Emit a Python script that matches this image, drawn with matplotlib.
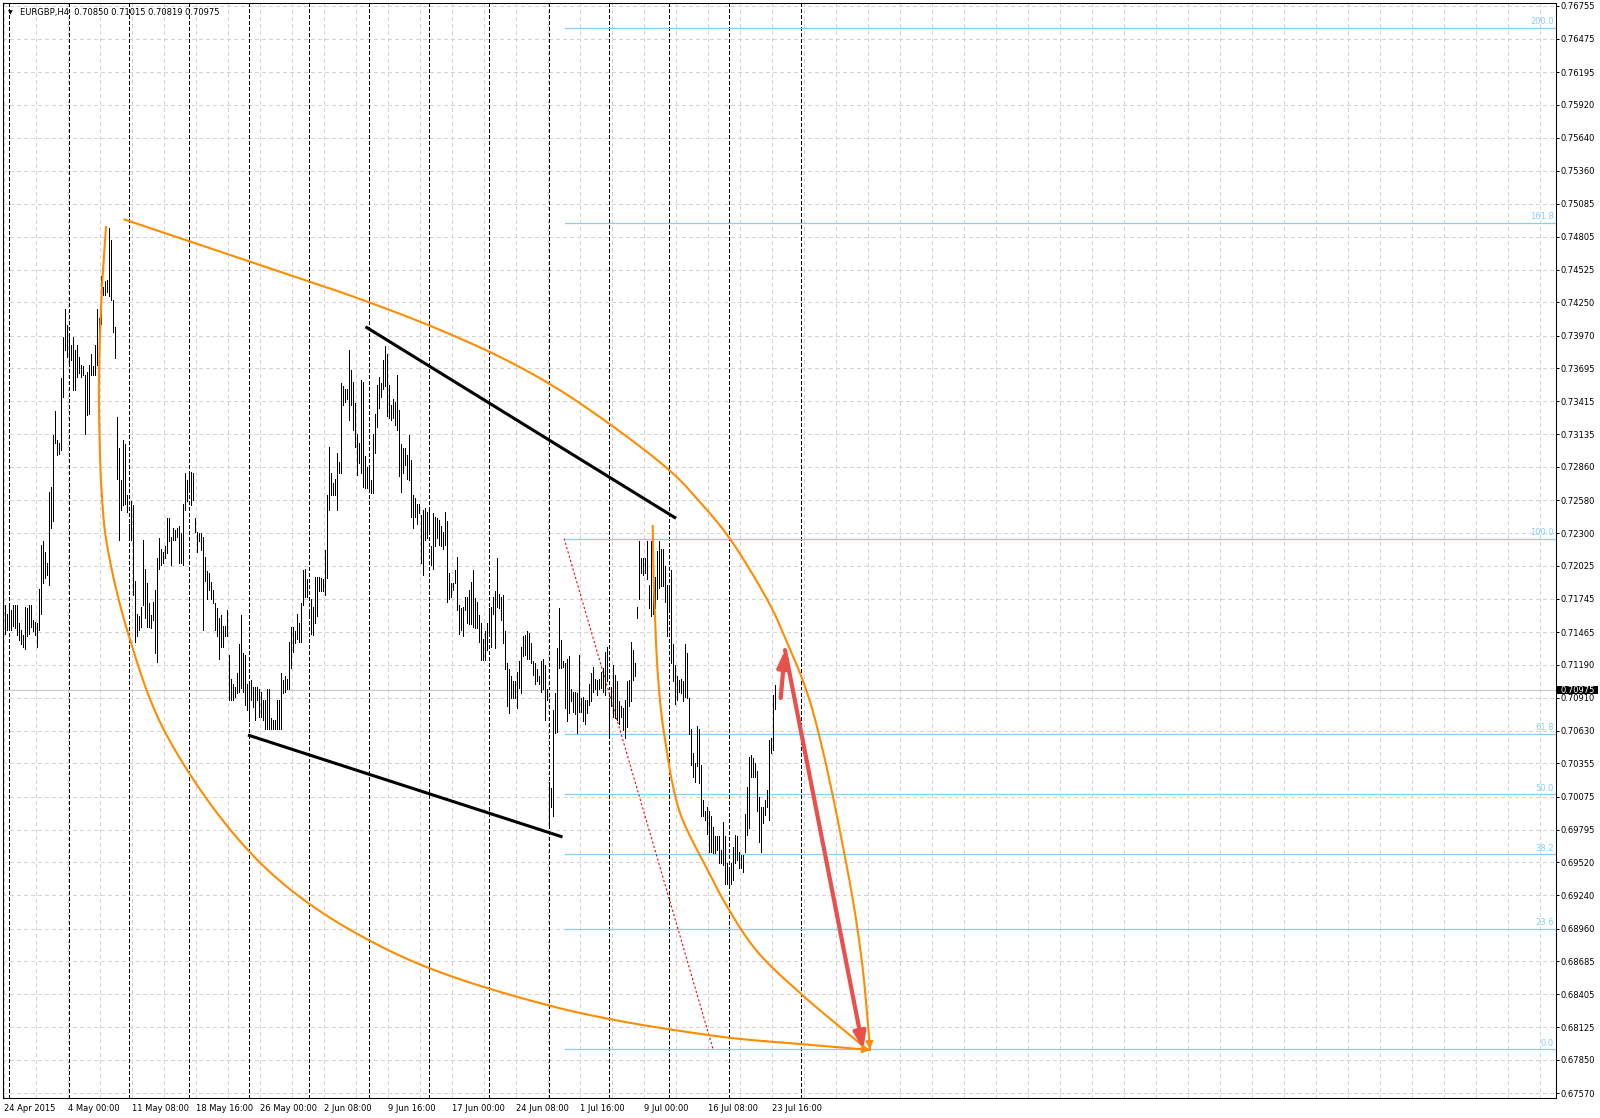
import numpy as np
import matplotlib
matplotlib.use('Agg')
import matplotlib.pyplot as plt
from matplotlib.patches import Rectangle

plt.rcParams['font.family'] = ['DejaVu Sans']
plt.rcParams['lines.scale_dashes'] = False

# EURGBP H4 bars (one entry per 4h bar, starting 24 Apr 2015 16:00)
highs = [
    0.7169, 0.7162, 0.7169, 0.7165, 0.7169, 0.7169, 0.7169, 0.7154, 0.7148, 0.7144,
    0.7168, 0.7167, 0.7169, 0.7169, 0.7157, 0.7155, 0.7154, 0.7183, 0.7220, 0.7223,
    0.7214, 0.7205, 0.7265, 0.7269, 0.7313, 0.7333, 0.7309, 0.7306, 0.7361, 0.7396,
    0.7419, 0.7406, 0.7397, 0.7389, 0.7396, 0.7385, 0.7389, 0.7379, 0.7372, 0.7371,
    0.7364, 0.7366, 0.7372, 0.7381, 0.7371, 0.7389, 0.7419, 0.7412, 0.7447, 0.7438,
    0.7443, 0.7444, 0.7488, 0.7478, 0.7427, 0.7404, 0.7328, 0.7302, 0.7275, 0.7309,
    0.7305, 0.7262, 0.7238, 0.7257, 0.7254, 0.7190, 0.7162, 0.7160, 0.7168, 0.7224,
    0.7200, 0.7188, 0.7171, 0.7161, 0.7172, 0.7182, 0.7209, 0.7226, 0.7217, 0.7214,
    0.7219, 0.7243, 0.7243, 0.7227, 0.7234, 0.7233, 0.7234, 0.7236, 0.7230, 0.7255,
    0.7281, 0.7275, 0.7282, 0.7282, 0.7281, 0.7243, 0.7231, 0.7230, 0.7230, 0.7227,
    0.7210, 0.7198, 0.7196, 0.7189, 0.7182, 0.7171, 0.7167, 0.7158, 0.7161, 0.7152,
    0.7152, 0.7165, 0.7127, 0.7107, 0.7103, 0.7100, 0.7112, 0.7136, 0.7161, 0.7129,
    0.7127, 0.7103, 0.7102, 0.7106, 0.7100, 0.7100, 0.7100, 0.7098, 0.7096, 0.7089,
    0.7089, 0.7098, 0.7098, 0.7074, 0.7072, 0.7072, 0.7089, 0.7089, 0.7112, 0.7106,
    0.7109, 0.7107, 0.7138, 0.7151, 0.7151, 0.7147, 0.7162, 0.7154, 0.7171, 0.7199,
    0.7200, 0.7191, 0.7165, 0.7174, 0.7168, 0.7193, 0.7193, 0.7193, 0.7192, 0.7191,
    0.7216, 0.7262, 0.7303, 0.7281, 0.7272, 0.7276, 0.7298, 0.7290, 0.7357, 0.7354,
    0.7352, 0.7352, 0.7385, 0.7368, 0.7358, 0.7340, 0.7314, 0.7306, 0.7359, 0.7358,
    0.7295, 0.7286, 0.7284, 0.7275, 0.7314, 0.7331, 0.7355, 0.7362, 0.7357, 0.7376,
    0.7388, 0.7381, 0.7355, 0.7338, 0.7343, 0.7341, 0.7364, 0.7334, 0.7305, 0.7302,
    0.7302, 0.7296, 0.7313, 0.7292, 0.7262, 0.7260, 0.7255, 0.7255, 0.7245, 0.7250,
    0.7251, 0.7248, 0.7251, 0.7219, 0.7247, 0.7244, 0.7243, 0.7241, 0.7236, 0.7231,
    0.7248, 0.7240, 0.7196, 0.7188, 0.7188, 0.7199, 0.7210, 0.7169, 0.7167, 0.7168,
    0.7176, 0.7176, 0.7182, 0.7189, 0.7199, 0.7175, 0.7172, 0.7161, 0.7154, 0.7141,
    0.7147, 0.7154, 0.7167, 0.7168, 0.7176, 0.7181, 0.7209, 0.7179, 0.7176, 0.7178,
    0.7147, 0.7120, 0.7115, 0.7109, 0.7105, 0.7105, 0.7113, 0.7122, 0.7134, 0.7143,
    0.7144, 0.7147, 0.7146, 0.7137, 0.7122, 0.7120, 0.7115, 0.7109, 0.7122, 0.7124,
    0.7119, 0.7098, 0.7020, 0.7015, 0.7081, 0.7095, 0.7133, 0.7167, 0.7140, 0.7122,
    0.7120, 0.7124, 0.7126, 0.7098, 0.7096, 0.7096, 0.7095, 0.7127, 0.7091, 0.7092,
    0.7089, 0.7089, 0.7103, 0.7112, 0.7117, 0.7107, 0.7106, 0.7107, 0.7113, 0.7116,
    0.7130, 0.7134, 0.7091, 0.7100, 0.7119, 0.7110, 0.7105, 0.7088, 0.7084, 0.7082,
    0.7089, 0.7105, 0.7106, 0.7138, 0.7131, 0.7120, 0.7168, 0.7223, 0.7209, 0.7209,
    0.7209, 0.7223, 0.7186, 0.7223, 0.7202, 0.7193, 0.7215, 0.7223, 0.7217, 0.7217,
    0.7202, 0.7186, 0.7185, 0.7199, 0.7136, 0.7119, 0.7109, 0.7106, 0.7107, 0.7105,
    0.7136, 0.7129, 0.7091, 0.7065, 0.7044, 0.7036, 0.7067, 0.7065, 0.7034, 0.7005,
    0.6995, 0.6999, 0.6995, 0.6991, 0.6982, 0.6974, 0.6974, 0.6974, 0.6962, 0.6986,
    0.6974, 0.6951, 0.6946, 0.6951, 0.6965, 0.6975, 0.6974, 0.6961, 0.6958, 0.6958,
    0.6993, 0.7016, 0.7041, 0.7043, 0.7040, 0.7036, 0.7029, 0.7007, 0.6999, 0.6999,
    0.7005, 0.7013, 0.7055, 0.7057, 0.7093, 0.71015,
]
lows = [
    0.7145, 0.7148, 0.7150, 0.7148, 0.7152, 0.7150, 0.7144, 0.7140, 0.7136, 0.7134,
    0.7132, 0.7143, 0.7145, 0.7151, 0.7147, 0.7144, 0.7134, 0.7148, 0.7162, 0.7188,
    0.7192, 0.7195, 0.7186, 0.7234, 0.7240, 0.7306, 0.7296, 0.7297, 0.7300, 0.7345,
    0.7385, 0.7379, 0.7375, 0.7376, 0.7351, 0.7351, 0.7362, 0.7365, 0.7362, 0.7364,
    0.7314, 0.7330, 0.7331, 0.7364, 0.7364, 0.7364, 0.7372, 0.7379, 0.7407, 0.7431,
    0.7431, 0.7434, 0.7430, 0.7427, 0.7400, 0.7378, 0.7276, 0.7224, 0.7250, 0.7254,
    0.7255, 0.7248, 0.7224, 0.7224, 0.7178, 0.7138, 0.7143, 0.7148, 0.7151, 0.7169,
    0.7158, 0.7151, 0.7151, 0.7150, 0.7157, 0.7129, 0.7121, 0.7200, 0.7203, 0.7205,
    0.7209, 0.7213, 0.7223, 0.7203, 0.7224, 0.7224, 0.7227, 0.7205, 0.7205, 0.7203,
    0.7250, 0.7257, 0.7265, 0.7254, 0.7258, 0.7231, 0.7214, 0.7223, 0.7216, 0.7148,
    0.7190, 0.7174, 0.7182, 0.7174, 0.7171, 0.7148, 0.7143, 0.7124, 0.7134, 0.7134,
    0.7143, 0.7143, 0.7089, 0.7089, 0.7089, 0.7092, 0.7095, 0.7096, 0.7099, 0.7096,
    0.7085, 0.7081, 0.7071, 0.7089, 0.7083, 0.7072, 0.7089, 0.7075, 0.7075, 0.7072,
    0.7065, 0.7065, 0.7065, 0.7065, 0.7065, 0.7065, 0.7065, 0.7065, 0.7065, 0.7095,
    0.7096, 0.7098, 0.7098, 0.7116, 0.7130, 0.7137, 0.7141, 0.7138, 0.7138, 0.7169,
    0.7176, 0.7176, 0.7158, 0.7145, 0.7144, 0.7154, 0.7160, 0.7181, 0.7181, 0.7181,
    0.7178, 0.7192, 0.7250, 0.7262, 0.7262, 0.7262, 0.7250, 0.7281, 0.7281, 0.7338,
    0.7341, 0.7343, 0.7326, 0.7338, 0.7317, 0.7303, 0.7279, 0.7289, 0.7281, 0.7269,
    0.7268, 0.7268, 0.7265, 0.7264, 0.7264, 0.7298, 0.7320, 0.7336, 0.7345, 0.7352,
    0.7354, 0.7329, 0.7327, 0.7326, 0.7327, 0.7321, 0.7317, 0.7278, 0.7265, 0.7281,
    0.7288, 0.7276, 0.7275, 0.7244, 0.7234, 0.7244, 0.7238, 0.7247, 0.7205, 0.7195,
    0.7224, 0.7226, 0.7231, 0.7203, 0.7200, 0.7219, 0.7226, 0.7220, 0.7219, 0.7217,
    0.7220, 0.7172, 0.7174, 0.7176, 0.7182, 0.7188, 0.7165, 0.7145, 0.7148, 0.7143,
    0.7165, 0.7154, 0.7153, 0.7153, 0.7151, 0.7150, 0.7150, 0.7138, 0.7123, 0.7123,
    0.7123, 0.7131, 0.7145, 0.7134, 0.7162, 0.7133, 0.7168, 0.7167, 0.7157, 0.7137,
    0.7115, 0.7084, 0.7078, 0.7091, 0.7091, 0.7091, 0.7082, 0.7099, 0.7095, 0.7126,
    0.7127, 0.7124, 0.7124, 0.7120, 0.7110, 0.7103, 0.7105, 0.7103, 0.7096, 0.7098,
    0.7072, 0.7089, 0.6984, 0.6999, 0.6991, 0.7061, 0.7062, 0.7116, 0.7116, 0.7117,
    0.7082, 0.7071, 0.7078, 0.7088, 0.7079, 0.7077, 0.7061, 0.7079, 0.7079, 0.7071,
    0.7069, 0.7078, 0.7085, 0.7088, 0.7096, 0.7098, 0.7093, 0.7098, 0.7099, 0.7096,
    0.7093, 0.7105, 0.7060, 0.7084, 0.7075, 0.7074, 0.7072, 0.7069, 0.7075, 0.7064,
    0.7057, 0.7066, 0.7084, 0.7088, 0.7106, 0.7109, 0.7158, 0.7174, 0.7196, 0.7195,
    0.7196, 0.7191, 0.7167, 0.7160, 0.7162, 0.7167, 0.7174, 0.7184, 0.7185, 0.7185,
    0.7172, 0.7143, 0.7165, 0.7120, 0.7105, 0.7086, 0.7089, 0.7096, 0.7095, 0.7088,
    0.7092, 0.7091, 0.7060, 0.7034, 0.7024, 0.7020, 0.7033, 0.7019, 0.6991, 0.6991,
    0.6988, 0.6976, 0.6961, 0.6961, 0.6960, 0.6960, 0.6962, 0.6951, 0.6951, 0.6950,
    0.6934, 0.6934, 0.6934, 0.6934, 0.6937, 0.6951, 0.6954, 0.6947, 0.6947, 0.6944,
    0.6961, 0.6975, 0.6981, 0.7024, 0.7024, 0.7024, 0.6995, 0.6969, 0.6961, 0.6985,
    0.6992, 0.6999, 0.6988, 0.7044, 0.7047, 0.70819,
]
assert len(highs) == len(lows), (len(highs), len(lows))

title = 'EURGBP,H4  0.70850 0.71015 0.70819 0.70975'
bid = 0.70975

price_ticks = [0.76755, 0.76475, 0.76195, 0.75920, 0.75640, 0.75360, 0.75085, 0.74805,
               0.74525, 0.74250, 0.73970, 0.73695, 0.73415, 0.73135, 0.72860, 0.72580,
               0.72300, 0.72025, 0.71745, 0.71465, 0.71190, 0.70910, 0.70630, 0.70355,
               0.70075, 0.69795, 0.69520, 0.69240, 0.68960, 0.68685, 0.68405, 0.68125,
               0.67850, 0.67570]
date_labels = ['24 Apr 2015', '4 May 00:00', '11 May 08:00', '18 May 16:00', '26 May 00:00',
               '2 Jun 08:00', '9 Jun 16:00', '17 Jun 00:00', '24 Jun 08:00', '1 Jul 16:00',
               '9 Jul 00:00', '16 Jul 08:00', '23 Jul 16:00']
date_label_bars = [0, 32, 64, 96, 128, 160, 192, 224, 256, 288, 320, 352, 384]
week_start_bars = [2, 32, 62, 92, 122, 152, 182, 212, 242, 272, 302, 332, 362, 398]

# fibonacci retracement
fib_levels = [0.0, 23.6, 38.2, 50.0, 61.8, 100.0, 161.8, 200.0]
fib_high = 0.72255
fib_low = 0.67940
fib_bar_high = 279.4
fib_bar_low = 353.9

# trend lines (bar, price)
upper_line_bar = [180.1, 335.35]
upper_line_price = [0.74044, 0.72426]
lower_line_bar = [121.35, 278.6]
lower_line_price = [0.70595, 0.69734]

# orange arcs, anchor points (bar, price)
arc_upper_bar = [59.6, 119.9, 175.9, 217.4, 252.4, 283.4, 331.9, 346.4, 362.4, 382.4,
                 388.2, 402.35, 420.9, 428.2, 432.4]
arc_upper_price = [0.74950, 0.74608, 0.74287, 0.74017, 0.73746, 0.73442, 0.72834, 0.72581,
                   0.72251, 0.71694, 0.71482, 0.70877, 0.69472, 0.68695, 0.67943]
arc_lower_bar = [50.35, 48.2, 46.85, 47.0, 48.2, 50.7, 61.35, 81.5, 130.1,
                 191.35, 272.85, 354.85, 397.35, 432.35]
arc_lower_price = [0.74887, 0.74329, 0.73620, 0.73197, 0.72640, 0.72217, 0.71457,
                   0.70568, 0.69472, 0.68779, 0.68306, 0.68053, 0.67985, 0.67935]
arc_small_bar = [323.7, 324.0, 324.85, 326.0, 328.2, 330.7, 333.2, 337.35, 342.35, 350.7,
                 359.0, 375.1, 397.35, 430.7]
arc_small_price = [0.72361, 0.72017, 0.71595, 0.71172, 0.70750, 0.70469, 0.70215, 0.69937,
                   0.69742, 0.69472, 0.69202, 0.68784, 0.68416, 0.67943]

# red arrows (bar, price)
arrow_up_bar = [387.7, 389.85]
arrow_up_price = [0.70908, 0.71313]
arrow_down_bar = [389.85, 429.0]
arrow_down_price = [0.71313, 0.67940]

ORANGE = '#ff8c00'
RED = '#e8504c'
FIB = '#87cefa'
GRID = '#d4d4d4'

W, H = 1600, 1118
fig = plt.figure(figsize=(W / 100, H / 100), dpi=100)
L, R, T, B = 3, 1556, 3, 1097.5
ax = fig.add_axes([L / W, 1 - B / H, (R - L) / W, (B - T) / H])
ax.set_xlim(-1.15, 775.35)
ax.set_ylim(0.67533, 0.76779)


def smooth_curve(xs, ys, n=30):
    # centripetal catmull-rom through the anchor points, done in pixel space
    P = ax.transData.transform(np.column_stack([xs, ys]))
    P = np.vstack([2 * P[0] - P[1], P, 2 * P[-1] - P[-2]])
    out = []
    for i in range(1, len(P) - 2):
        p0, p1, p2, p3 = P[i - 1], P[i], P[i + 1], P[i + 2]
        t0 = 0.0
        t1 = t0 + np.linalg.norm(p1 - p0) ** 0.5
        t2 = t1 + np.linalg.norm(p2 - p1) ** 0.5
        t3 = t2 + np.linalg.norm(p3 - p2) ** 0.5
        t = np.linspace(t1, t2, n, endpoint=False)[:, None]
        a1 = (t1 - t) / (t1 - t0) * p0 + (t - t0) / (t1 - t0) * p1
        a2 = (t2 - t) / (t2 - t1) * p1 + (t - t1) / (t2 - t1) * p2
        a3 = (t3 - t) / (t3 - t2) * p2 + (t - t2) / (t3 - t2) * p3
        b1 = (t2 - t) / (t2 - t0) * a1 + (t - t0) / (t2 - t0) * a2
        b2 = (t3 - t) / (t3 - t1) * a2 + (t - t1) / (t3 - t1) * a3
        out.append((t2 - t) / (t2 - t1) * b1 + (t - t1) / (t2 - t1) * b2)
    out.append(P[-2][None])
    return ax.transData.inverted().transform(np.vstack(out))


# grid
for p in price_ticks:
    ax.axhline(p, color=GRID, lw=0.75, dashes=(2.2, 2.2), zorder=0.5, antialiased=False)
for b in np.arange(0, 776, 16):
    ax.axvline(b - 0.4, color=GRID, lw=0.75, dashes=(2.2, 2.2), zorder=0.5, antialiased=False)

# weekly separators
for b in week_start_bars:
    ax.axvline(b, color='black', lw=0.75, dashes=(2.2, 1.6), zorder=1, antialiased=False)

# bid line
ax.axhline(bid, color='#c8c8c8', lw=0.75, zorder=1)

# fibonacci
for lv in fib_levels:
    pr = fib_low + lv / 100.0 * (fib_high - fib_low)
    ax.plot([fib_bar_high + 0.4, 775.35], [pr, pr], color=FIB, lw=0.9, zorder=1.5)
    ax.text(774.2, pr + 0.00012, f'{lv:.1f}', color=FIB, fontsize=6,
            ha='right', va='bottom', zorder=1.6)
ax.plot([fib_bar_high, fib_bar_low], [fib_high, fib_low], color='red', lw=0.8,
        dashes=(1.6, 1.6), zorder=1.7)

# bars
idx = np.arange(len(highs))
ax.vlines(idx, lows, highs, color='black', lw=0.72, antialiased=False, zorder=2)

# trend lines
ax.plot(upper_line_bar, upper_line_price, color='black', lw=2.2, solid_capstyle='butt', zorder=3)
ax.plot(lower_line_bar, lower_line_price, color='black', lw=2.2, solid_capstyle='butt', zorder=3)

# arcs
for xs, ys, head in [(arc_upper_bar, arc_upper_price, True),
                     (arc_lower_bar, arc_lower_price, True),
                     (arc_small_bar, arc_small_price, False)]:
    c = smooth_curve(xs, ys)
    ax.plot(c[:, 0], c[:, 1], color=ORANGE, lw=1.5, zorder=4)
    if head:
        ax.annotate('', xy=c[-1], xytext=c[-6],
                    arrowprops=dict(arrowstyle='-|>,head_length=0.5,head_width=0.25',
                                    color=ORANGE, lw=1.2, mutation_scale=9,
                                    shrinkA=0, shrinkB=0), zorder=4)

# red arrows
for xs, ys in [(arrow_up_bar, arrow_up_price), (arrow_down_bar, arrow_down_price)]:
    ax.annotate('', xy=(xs[1], ys[1]), xytext=(xs[0], ys[0]),
                arrowprops=dict(arrowstyle='-|>,head_length=0.55,head_width=0.2',
                                color=RED, lw=3.0, mutation_scale=18,
                                shrinkA=0, shrinkB=0), zorder=5)

# axes styling
for s in ax.spines.values():
    s.set_color('black')
    s.set_linewidth(0.75)
ax.yaxis.tick_right()
ax.set_yticks(price_ticks)
ax.set_yticklabels([f'{v:.5f}' for v in price_ticks])
ax.tick_params(axis='y', length=2.2, width=0.72, pad=1.3, labelsize=6, direction='out')
ax.set_xticks(np.array(date_label_bars) - 0.6)
ax.set_xticklabels(date_labels, ha='left')
ax.tick_params(axis='x', length=0, pad=5, labelsize=6)

# bid price box
fig.canvas.draw()
yd = ax.transData.transform((0, bid))[1]
fig.add_artist(Rectangle((1556.5 / W, (yd - 4.3) / H), 41 / W, 8.6 / H,
                         transform=fig.transFigure, fc='black', ec='none', zorder=20))
fig.text(1560.7 / W, yd / H, f'{bid:.5f}', color='white', fontsize=6, va='center',
         ha='left', zorder=21)

# title
fig.text(8 / W, 1 - 12.5 / H, '\u25bc', fontsize=4.5, va='center', ha='left')
fig.text(20 / W, 1 - 13 / H, title, fontsize=6, va='center', ha='left')

fig.savefig('out.png', dpi=100, facecolor='white')
